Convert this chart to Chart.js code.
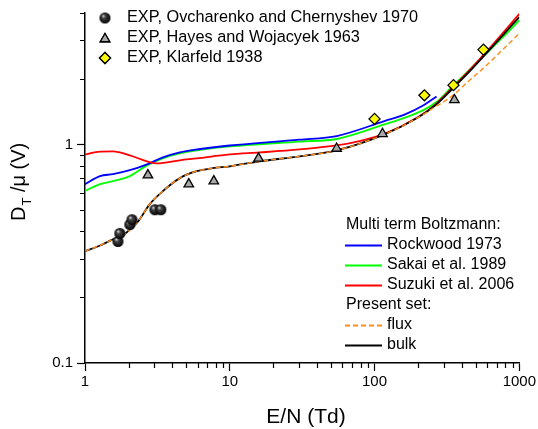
<!DOCTYPE html>
<html>
<head>
<meta charset="utf-8">
<script src="https://cdn.jsdelivr.net/npm/chart.js@4/dist/chart.umd.min.js"></script>
<style>
  html, body { margin: 0; padding: 0; background: #fff; }
  #wrap { width: 538px; height: 429px; position: relative; }
</style>
</head>
<body>
<div id="wrap"><canvas id="c"></canvas></div>
<script>
const FONT = '"Liberation Sans", Arial, sans-serif';

// axis ticks
const xTicks = [1,2,3,4,5,6,7,8,9,10,20,30,40,50,60,70,80,90,100,200,300,400,500,600,700,800,900,1000];
const xMajor = [1, 10, 100, 1000];
const yTicks = [0.1,0.2,0.3,0.4,0.5,0.6,0.7,0.8,0.9,1,2,3,4];
const yMajor = [0.1, 1];

// Multi term Boltzmann curves (E/N in Td, DT/mu in V)
const rockE = [1, 1.27, 1.56, 2.04, 2.68, 3.45, 4.52, 5.92, 10, 30.4, 54.7, 117, 161, 221, 268];
const rockD = [0.659, 0.717, 0.732, 0.763, 0.812, 0.873, 0.92, 0.949, 0.99, 1.053, 1.094, 1.28, 1.37, 1.52, 1.66];

const sakaiE = [1, 1.27, 1.56, 2.04, 2.68, 3.45, 4.52, 5.92, 10, 30.4, 54.7, 117, 161, 221, 272, 340, 438, 574, 751, 1000];
const sakaiD = [0.613, 0.659, 0.68, 0.717, 0.803, 0.864, 0.91, 0.94, 0.98, 1.032, 1.06, 1.236, 1.325, 1.445, 1.577, 1.83, 2.15, 2.56, 3.05, 3.70];

const suzE = [1, 1.27, 1.56, 2.04, 2.68, 3.14, 4.52, 5.92, 10, 16.1, 30.4, 54.7, 80, 117, 198, 259, 345, 438, 574, 751, 1000];
const suzD = [0.901, 0.928, 0.93, 0.892, 0.838, 0.82, 0.847, 0.864, 0.901, 0.92, 0.95, 0.99, 1.04, 1.12, 1.33, 1.51, 1.82, 2.14, 2.60, 3.18, 3.96];

// Present set
const bulkE = [1, 1.27, 1.56, 1.8, 2.04, 2.32, 2.81, 3.4, 4.52, 5.92, 7.63, 10, 16.1, 30.4, 54.7, 117, 198, 259, 345, 438, 574, 751, 1000];
const bulkD = [0.325, 0.345, 0.368, 0.38, 0.408, 0.444, 0.535, 0.607, 0.702, 0.755, 0.779, 0.795, 0.838, 0.883, 0.94, 1.113, 1.325, 1.50, 1.80, 2.11, 2.56, 3.11, 3.83];

const fluxE = [1, 1.27, 1.56, 1.8, 2.04, 2.32, 2.81, 3.4, 4.52, 5.92, 7.63, 10, 16.1, 30.4, 54.7, 117, 198, 259, 340, 438, 574, 751, 1000];
const fluxD = [0.325, 0.345, 0.368, 0.38, 0.408, 0.444, 0.535, 0.607, 0.702, 0.755, 0.779, 0.795, 0.838, 0.883, 0.94, 1.113, 1.325, 1.48, 1.66, 1.93, 2.26, 2.68, 3.23];

// experiments
const ovchE = [1.69, 1.74, 2.04, 2.11, 3.04, 3.34];
const ovchD = [0.36, 0.392, 0.43, 0.453, 0.503, 0.503];

const hayesE = [2.72, 5.21, 7.76, 15.8, 54.7, 113.5, 356];
const hayesD = [0.724, 0.659, 0.68, 0.864, 0.959, 1.12, 1.60];

const klarE = [100, 221, 351, 565];
const klarD = [1.31, 1.68, 1.87, 2.72];

const pts = (xs, ys) => xs.map((x, i) => ({ x, y: ys[i] }));

function sphere(r) {
    const c = document.createElement('canvas');
    c.width = c.height = Math.ceil(2 * r + 2);
    const g = c.getContext('2d');
    const m = c.width / 2;
    const grd = g.createRadialGradient(m - r * 0.35, m - r * 0.4, 0.3, m, m, r);
    grd.addColorStop(0, '#e0e0e0');
    grd.addColorStop(0.3, '#444');
    grd.addColorStop(1, '#000');
    g.fillStyle = grd;
    g.beginPath(); g.arc(m, m, r, 0, Math.PI * 2); g.fill();
    return c;
}
const ball = sphere(5.5);

const curve = (label, xs, ys, color, order, extra) => Object.assign({
    type: 'line', label, data: pts(xs, ys), borderColor: color, backgroundColor: color,
    borderWidth: 1.8, pointRadius: 0, fill: false, cubicInterpolationMode: 'monotone', order
}, extra || {});

// minor ticks drawn shorter than the majors
const minorTicks = {
    id: 'minorTicks',
    afterDraw(chart) {
        const ctx = chart.ctx, xs = chart.scales.x, ys = chart.scales.y;
        ctx.save();
        ctx.strokeStyle = '#000'; ctx.lineWidth = 1.2;
        ctx.beginPath();
        xTicks.filter(v => !xMajor.includes(v)).forEach(v => {
            const px = Math.round(xs.getPixelForValue(v)) + 0.5;
            ctx.moveTo(px, ys.bottom); ctx.lineTo(px, ys.bottom + 5);
        });
        yTicks.filter(v => !yMajor.includes(v)).forEach(v => {
            const py = Math.round(ys.getPixelForValue(v)) + 0.5;
            ctx.moveTo(xs.left, py); ctx.lineTo(xs.left - 5, py);
        });
        ctx.stroke();
        ctx.restore();
    }
};

// axis titles and the two legend blocks
const annot = {
    id: 'annot',
    afterDraw(chart) {
        const ctx = chart.ctx;
        ctx.save();
        ctx.fillStyle = '#000';
        ctx.textBaseline = 'alphabetic';

        // x title
        ctx.font = '21px ' + FONT;
        ctx.textAlign = 'center';
        ctx.fillText('E/N (Td)', 306, 423);

        // y title, rotated
        ctx.save();
        ctx.translate(25, 221);
        ctx.rotate(-Math.PI / 2);
        ctx.textAlign = 'left';
        ctx.font = '20px ' + FONT;
        ctx.fillText('D', 0, 0);
        let w = ctx.measureText('D').width;
        ctx.font = '13px ' + FONT;
        ctx.fillText('T', w + 1, 6);
        w += ctx.measureText('T').width + 1;
        ctx.font = '20px ' + FONT;
        ctx.fillText(' /\u03BC (V)', w, 0);
        ctx.restore();

        ctx.textAlign = 'left';
        ctx.textBaseline = 'middle';

        // experiment legend
        ctx.font = '16.3px ' + FONT;
        const exp = [
            ['EXP, Ovcharenko and Chernyshev 1970', 'ball'],
            ['EXP, Hayes and Wojacyek 1963', 'triangle'],
            ['EXP, Klarfeld 1938', 'rectRot']
        ];
        exp.forEach(([txt, st], i) => {
            const y = 18 + i * 20, x = 105;
            if (st === 'ball') {
                ctx.drawImage(ball, x - ball.width / 2, y - ball.height / 2);
            } else {
                ctx.lineWidth = 1.3; ctx.strokeStyle = '#000';
                ctx.fillStyle = st === 'triangle' ? '#a8a8a8' : '#ffff00';
                Chart.helpers.drawPoint(ctx, { pointStyle: st, radius: 5.5, rotation: 0, borderWidth: 1.3 }, x, st === 'triangle' ? y + 1 : y);
                ctx.fill(); ctx.stroke();
            }
            ctx.fillStyle = '#000';
            ctx.fillText(txt, 127, y);
        });

        // model legend
        ctx.font = '16px ' + FONT;
        const rows = [
            ['Multi term Boltzmann:', null],
            ['Rockwood 1973', '#0000ff'],
            ['Sakai et al. 1989', '#00ff00'],
            ['Suzuki et al. 2006', '#ff0000'],
            ['Present set:', null],
            ['flux', '#ff8c1a', [5, 3]],
            ['bulk', '#000000']
        ];
        rows.forEach(([txt, col, dash], i) => {
            const y = 225 + i * 20;
            if (!col) { ctx.fillStyle = '#000'; ctx.fillText(txt, 346, y); return; }
            ctx.strokeStyle = col; ctx.lineWidth = 1.8;
            ctx.setLineDash(dash || []);
            ctx.beginPath(); ctx.moveTo(345, y + 0.5); ctx.lineTo(382, y + 0.5); ctx.stroke();
            ctx.setLineDash([]);
            ctx.fillStyle = '#000';
            ctx.fillText(txt, 387, y);
        });
        ctx.restore();
    }
};

new Chart(document.getElementById('c').getContext('2d'), {
    data: {
        datasets: [
            { type: 'scatter', label: 'EXP, Ovcharenko and Chernyshev 1970', data: pts(ovchE, ovchD), pointStyle: ball, order: 0 },
            { type: 'scatter', label: 'EXP, Hayes and Wojacyek 1963', data: pts(hayesE, hayesD), pointStyle: 'triangle', pointRadius: 5.5,
              backgroundColor: '#a8a8a8', borderColor: '#000', borderWidth: 1.3, order: 0 },
            { type: 'scatter', label: 'EXP, Klarfeld 1938', data: pts(klarE, klarD), pointStyle: 'rectRot', pointRadius: 5.5,
              backgroundColor: '#ffff00', borderColor: '#000', borderWidth: 1.3, order: 0 },
            curve('flux', fluxE, fluxD, '#ff8c1a', 1, { borderDash: [5, 3], borderWidth: 1.4 }),
            curve('bulk', bulkE, bulkD, '#000000', 2),
            curve('Suzuki et al. 2006', suzE, suzD, '#ff0000', 3),
            curve('Rockwood 1973', rockE, rockD, '#0000ff', 4),
            curve('Sakai et al. 1989', sakaiE, sakaiD, '#00ff00', 5)
        ]
    },
    options: {
        animation: false, responsive: true, maintainAspectRatio: false,
        layout: { padding: { top: 9, right: 18, left: 0, bottom: 0 } },
        plugins: { legend: { display: false }, tooltip: { enabled: false } },
        scales: {
            x: {
                type: 'logarithmic', position: 'bottom', min: 1, max: 1000,
                afterBuildTicks: s => { s.ticks = xTicks.map(v => ({ value: v, major: xMajor.includes(v) })); },
                afterFit: s => { s.height = 66; },
                ticks: {
                    autoSkip: false, maxRotation: 0, color: '#000', padding: 2,
                    font: { family: FONT, size: 15 },
                    callback: v => xMajor.includes(v) ? String(v) : ''
                },
                grid: {
                    drawOnChartArea: false, drawTicks: true, tickLength: 8, tickWidth: 1.2,
                    tickColor: c => (c.tick && xMajor.includes(c.tick.value)) ? '#000' : 'rgba(0,0,0,0)'
                },
                border: { color: '#000', width: 1.5 }
            },
            y: {
                type: 'logarithmic', position: 'left', min: 0.1, max: 4,
                afterBuildTicks: s => { s.ticks = yTicks.map(v => ({ value: v, major: yMajor.includes(v) })); },
                afterFit: s => { s.width = 85; },
                ticks: {
                    autoSkip: false, color: '#000', padding: 4,
                    font: { family: FONT, size: 15 },
                    callback: v => yMajor.includes(v) ? String(v) : ''
                },
                grid: {
                    drawOnChartArea: false, drawTicks: true, tickLength: 8, tickWidth: 1.2,
                    tickColor: c => (c.tick && yMajor.includes(c.tick.value)) ? '#000' : 'rgba(0,0,0,0)'
                },
                border: { color: '#000', width: 1.5 }
            }
        }
    },
    plugins: [minorTicks, annot]
});
</script>
</body>
</html>
